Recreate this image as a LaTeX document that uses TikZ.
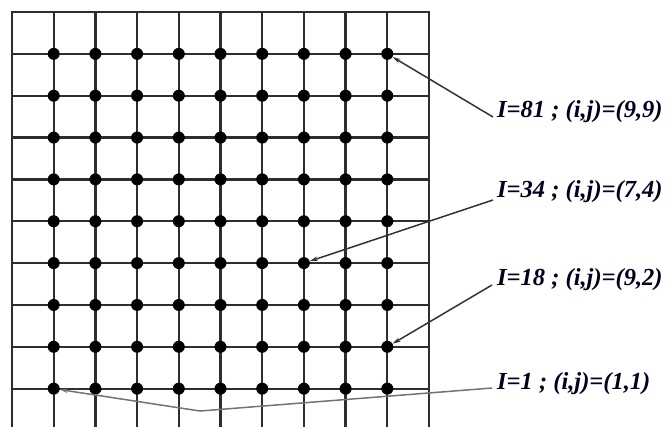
\documentclass[tikz,border=0pt]{standalone}
\usepackage{fontspec}
\setmainfont{Liberation Serif}
\usetikzlibrary{arrows.meta}
\begin{document}
\begin{tikzpicture}[x=1pt,y=-1pt,
 gridline/.style={line width=2.3pt, draw=black!82, line cap=rect},
 dot/.style={circle, fill=black, inner sep=0pt, minimum size=12pt},
 lbl/.style={anchor=base west, inner sep=0pt, font=\fontsize{24.5}{26}\selectfont\bfseries\itshape, text=black!88!blue},
 pointer/.style={line width=1.5pt, draw=black!80, -{Stealth[length=8pt,width=4.5pt]}},
]
\useasboundingbox (0,0) rectangle (667,426);
\foreach \k in {0,...,10} {
  \draw[gridline] ({12+41.7*\k}, 12) -- ({12+41.7*\k}, 440);
}
\foreach \k in {0,...,9} {
  \draw[gridline] (12, {12+41.85*\k}) -- (429, {12+41.85*\k});
}
\foreach \i in {1,...,9} {
  \foreach \j in {1,...,9} {
    \node[dot] (d\i-\j) at ({12+41.7*\i}, {12+41.85*(10-\j)}) {};
  }
}
\node[lbl] (l81) at (497,117) {I=81 ; (i,j)=(9,9)};
\node[lbl] (l34) at (497,197) {I=34 ; (i,j)=(7,4)};
\node[lbl] (l18) at (497,285) {I=18 ; (i,j)=(9,2)};
\node[lbl] (l1) at (497,389) {I=1 ; (i,j)=(1,1)};
\coordinate (bend) at (200,411);
\draw[pointer] ([xshift=-4pt]l81.base west) -- (d9-9);
\draw[pointer] ([xshift=-4pt,yshift=-3pt]l34.base west) -- (d7-4);
\draw[pointer] ([xshift=-5pt]l18.base west) -- (d9-2);
\draw[pointer, draw=black!55] ([xshift=-5pt,yshift=1pt]l1.base west) -- (bend) -- (d1-1);
\end{tikzpicture}
\end{document}
